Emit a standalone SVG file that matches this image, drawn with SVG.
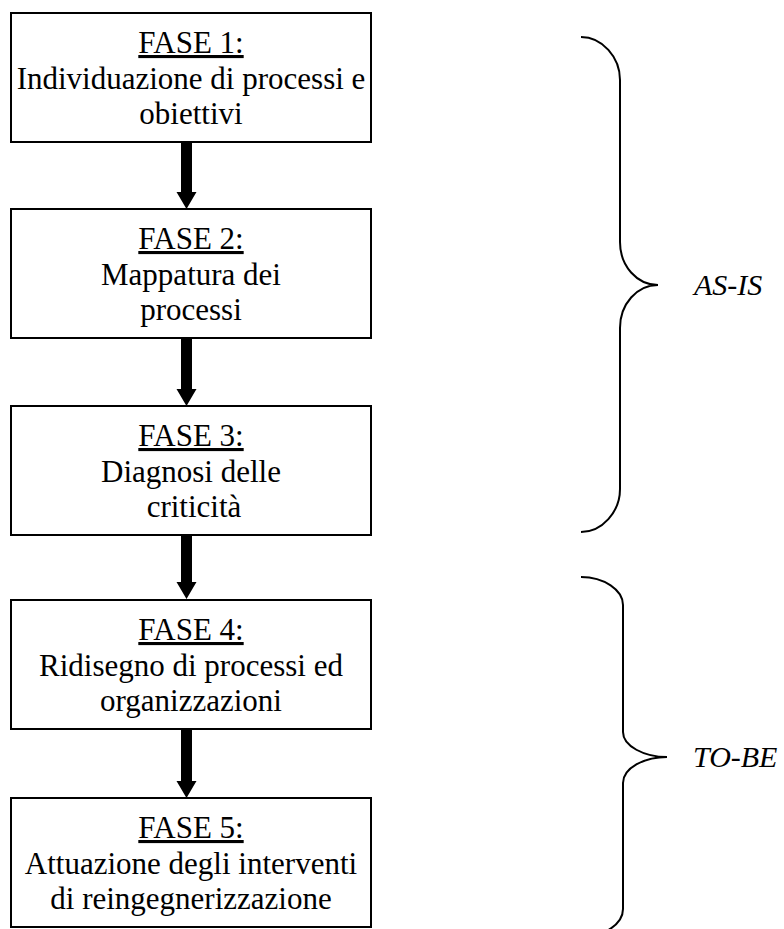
<svg xmlns="http://www.w3.org/2000/svg" width="784" height="929" viewBox="0 0 784 929">
<style>
.box{fill:#fff;stroke:#000;stroke-width:2}
.t{font-family:"Liberation Serif","Times New Roman",serif;font-size:31px;fill:#000;text-anchor:middle}
.u{text-decoration:underline}
.lbl{font-family:"Liberation Serif","Times New Roman",serif;font-size:30px;font-style:italic;fill:#000}
.brace{fill:none;stroke:#000;stroke-width:2}
.arr{fill:#000}
</style>
<rect width="784" height="929" fill="#fff"/>
<g id="connectors">
<path class="arr" d="M181,143 H192 V192 H196.5 L186.5,209 L176.5,192 H181 Z"/>
<path class="arr" d="M181,339 H192 V389 H196.5 L186.5,406 L176.5,389 H181 Z"/>
<path class="arr" d="M181,536 H192 V582 H196.5 L186.5,599 L176.5,582 H181 Z"/>
<path class="arr" d="M181,730 H192 V781 H196.5 L186.5,798 L176.5,781 H181 Z"/>
</g>
<g id="fase1">
<rect class="box" x="11" y="13" width="360" height="129"/>
<text class="t" x="191" y="53"><tspan class="u">FASE 1:</tspan></text>
<text class="t" x="191" y="89">Individuazione di processi e</text>
<text class="t" x="191" y="124">obiettivi</text>
</g>
<g id="fase2">
<rect class="box" x="11" y="209" width="360" height="129"/>
<text class="t" x="191" y="249"><tspan class="u">FASE 2:</tspan></text>
<text class="t" x="191" y="285">Mappatura dei</text>
<text class="t" x="191" y="320">processi</text>
</g>
<g id="fase3">
<rect class="box" x="11" y="406" width="360" height="129"/>
<text class="t" x="191" y="446"><tspan class="u">FASE 3:</tspan></text>
<text class="t" x="191" y="482">Diagnosi delle</text>
<text class="t" x="194" y="517">criticità</text>
</g>
<g id="fase4">
<rect class="box" x="11" y="600" width="360" height="129"/>
<text class="t" x="191" y="640"><tspan class="u">FASE 4:</tspan></text>
<text class="t" x="191" y="676">Ridisegno di processi ed</text>
<text class="t" x="191" y="711">organizzazioni</text>
</g>
<g id="fase5">
<rect class="box" x="11" y="798" width="360" height="129"/>
<text class="t" x="191" y="838"><tspan class="u">FASE 5:</tspan></text>
<text class="t" x="191" y="874">Attuazione degli interventi</text>
<text class="t" x="191" y="909">di reingegnerizzazione</text>
</g>
<g id="as-is">
<path class="brace" d="M581,37 C602,37 620,57 620,80 L620,242 C620,266 637,285 658,285 C637,285 620,304 620,328 L620,489 C620,512 602,532 581,532"/>
<text class="lbl" x="694" y="295">AS-IS</text>
</g>
<g id="to-be">
<path class="brace" d="M581,577 C604,577 623,590 623,605 L623,732 C623,746 644,757 667,757 C644,757 623,768 623,783 L623,909 C623,924 604,937 581,937"/>
<text class="lbl" x="693" y="767">TO-BE</text>
</g>
</svg>
